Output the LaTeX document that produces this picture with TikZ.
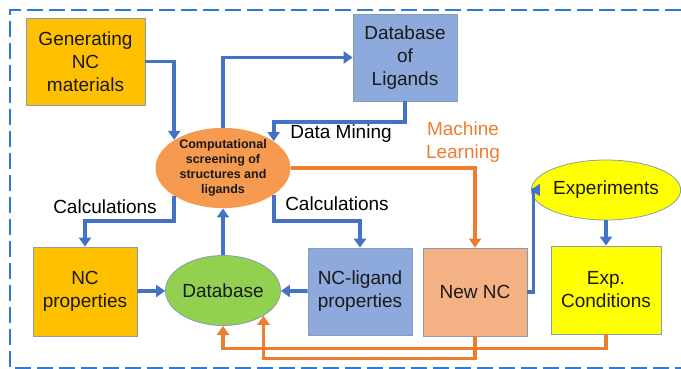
\documentclass[tikz,border=0pt]{standalone}
\usepackage{fontspec}
\setmainfont{Liberation Sans}
\usetikzlibrary{arrows.meta,shapes.geometric}
\definecolor{gold}{HTML}{FFC000}
\definecolor{ligblue}{HTML}{8EA9DB}
\definecolor{screenorange}{HTML}{F59A4E}
\definecolor{dbgreen}{HTML}{92D050}
\definecolor{salmon}{HTML}{F4B183}
\definecolor{expyellow}{HTML}{FFFF00}
\definecolor{arrblue}{HTML}{4472C4}
\definecolor{arrorange}{HTML}{ED7D31}
\definecolor{frameblue}{HTML}{2E7BD0}
\definecolor{edge}{HTML}{8A9BB5}

\begin{document}
\begin{tikzpicture}[x=1pt,y=-1pt,
  box/.style={draw=edge, line width=0.8pt, rectangle, align=center, inner sep=2pt,
    font=\fontsize{19}{23}\selectfont, text=black!90},
  blob/.style={draw=edge, line width=0.8pt, ellipse, align=center, inner sep=0pt,
    font=\fontsize{19}{23}\selectfont, text=black!90},
  bluearr/.style={draw=arrblue, line width=3.8pt, -{Triangle[length=9pt,width=12pt]}},
  orangearr/.style={draw=arrorange, line width=3.8pt, -{Triangle[length=9pt,width=12pt]}},
  lbl/.style={font=\fontsize{19}{23}\selectfont, align=center}]
\useasboundingbox (0,0) rectangle (681,369);

% frame
\draw[frameblue, line width=1.8pt, dash pattern=on 16pt off 6pt]
  (681,10) -- (10,10) -- (10,368) -- (681,368);

% nodes
\node (gen) at (85.5,61.5) [box, fill=gold, minimum width=119pt, minimum height=87pt] {Generating\\NC\\materials};
\node (lig) at (405,57.5) [box, fill=ligblue, minimum width=104pt, minimum height=87pt] {Database\\of\\Ligands};
\node (comp) at (223,168) [blob, fill=screenorange, draw=none, minimum width=135pt, minimum height=73pt,
  font=\fontsize{12.5}{15}\selectfont\bfseries] {Computational\\screening of\\structures and\\ligands};
\node (ncp) at (85,291.5) [box, fill=gold, minimum width=104pt, minimum height=89pt] {NC\\properties};
\node (db) at (223,290.5) [blob, fill=dbgreen, minimum width=107pt, minimum height=70pt] {Database};
\node (ncl) at (360,291.5) [box, fill=ligblue, minimum width=104pt, minimum height=87pt] {NC-ligand\\properties};
\node (newnc) at (475,292) [box, fill=salmon, minimum width=104pt, minimum height=88pt] {New NC};
\node (exp) at (606,190) [blob, fill=expyellow, minimum width=116pt, minimum height=60pt] {Experiments};
\node (cond) at (606,290) [box, fill=expyellow, minimum width=110pt, minimum height=88pt] {Exp.\\Conditions};

% labels
\node (calcl) at (105,207) [lbl] {Calculations};
\node (calcr) at (337,204) [lbl] {Calculations};
\node (mine) at (341,134) [lbl] {Data Mining};
\node (ml) at (463,142) [lbl, text=arrorange] {Machine\\Learning};

% blue connectors
\draw[bluearr] (gen.east) -| (comp.150);
\draw[bluearr] (comp.north) |- (lig.west);
\draw[bluearr] (lig.south) -- ++(0,21) -| (comp.28);
\draw[bluearr] (comp.210) -- ++(0,25) -| (ncp.north);
\draw[bluearr] (comp.332) -- ++(0,26) -| (ncl.north);
\draw[bluearr] (db.north) -- (comp.south);
\draw[bluearr] (ncp) -- (db);
\draw[bluearr] (ncl) -- (db);
\draw[bluearr] (newnc.east) -- ++(6,0) |- (exp.west);
\draw[bluearr] (exp.south) -- (cond.north);

% orange connectors
\draw[orangearr] (comp.east) -| (newnc.north);
\draw[orangearr] (newnc.south) -- ++(0,22) -| (db.328);
\draw[orangearr] (cond.south) -- ++(0,14) -| (db.south);
\end{tikzpicture}
\end{document}
